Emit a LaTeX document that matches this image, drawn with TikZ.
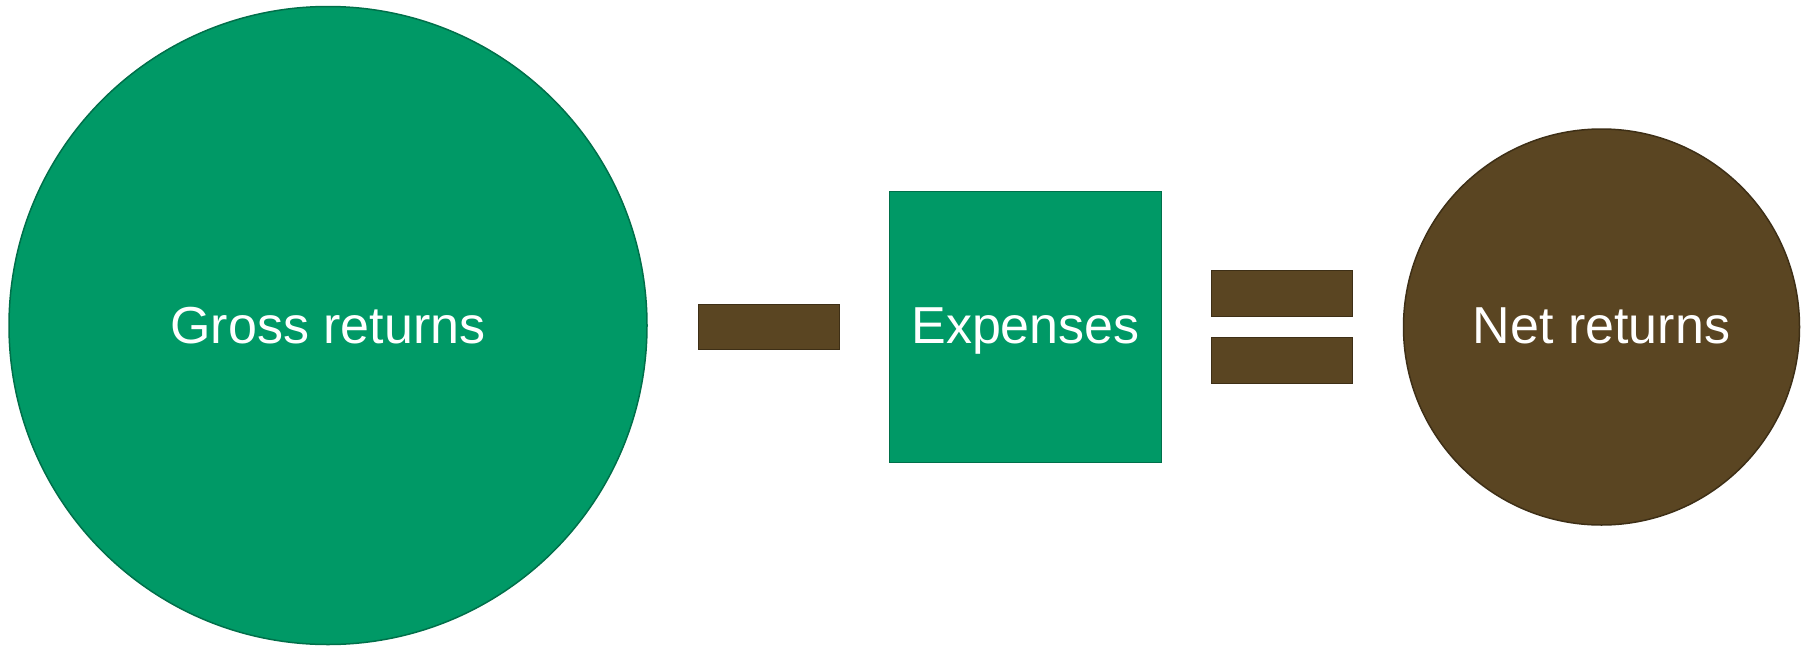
\documentclass[tikz,border=0pt]{standalone}
\usepackage{fontspec}
\setmainfont{Liberation Sans}
\definecolor{grn}{RGB}{0,153,102}
\definecolor{grnline}{RGB}{0,112,74}
\definecolor{brn}{RGB}{90,69,34}
\definecolor{brnline}{RGB}{62,47,22}
\tikzset{
  greenshape/.style={fill=grn, draw=grnline, line width=1.5pt},
  brownshape/.style={fill=brn, draw=brnline, line width=1.5pt},
  lbl/.style={text=white, font=\fontsize{52}{60}\selectfont, anchor=base, inner sep=0pt},
}
\begin{document}
\begin{tikzpicture}[x=1pt,y=-1pt]
\useasboundingbox (0,0) rectangle (1808,646);
\fill[white] (0,0) rectangle (1808,646);
% gross returns circle
\node[greenshape, circle, minimum size=638pt, inner sep=0pt] (gross) at (328,325.5) {};
\node[lbl] (grosst) at (328,343) {Gross returns};
% minus sign
\node[brownshape, rectangle, minimum width=141pt, minimum height=45pt, inner sep=0pt] (minus) at (769,327) {};
% expenses square
\node[greenshape, rectangle, minimum width=272pt, minimum height=271pt, inner sep=0pt] (exp) at (1025.5,327) {};
\node[lbl] (expt) at (1025.5,343) {Expenses};
% equals sign
\node[brownshape, rectangle, minimum width=141pt, minimum height=46pt, inner sep=0pt] (eqtop) at (1282,293.5) {};
\node[brownshape, rectangle, minimum width=141pt, minimum height=46pt, inner sep=0pt] (eqbot) at (1282,360.5) {};
% net returns circle
\node[brownshape, circle, minimum size=396pt, inner sep=0pt] (net) at (1601.5,327) {};
\node[lbl] (nett) at (1601.5,343) {Net returns};
\end{tikzpicture}
\end{document}
